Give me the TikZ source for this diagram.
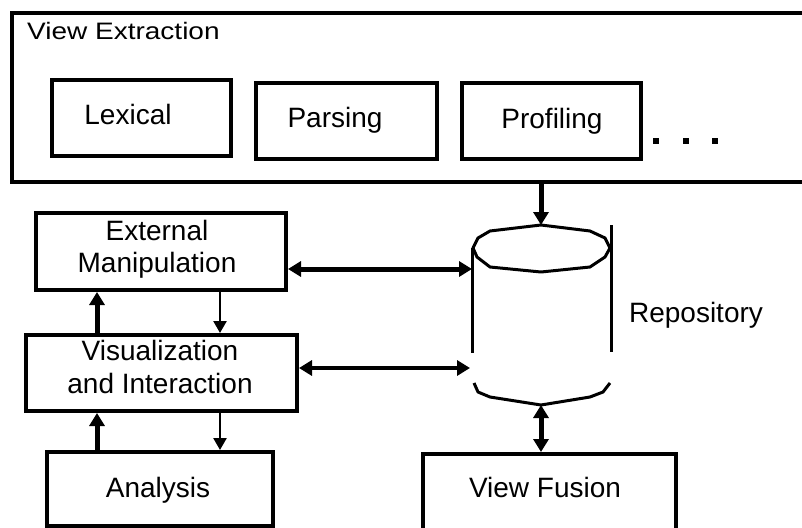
\documentclass[tikz,border=0pt]{standalone}
\usepackage{fontspec}
\setmainfont{Liberation Sans}
\usepackage{graphicx}
\usetikzlibrary{arrows.meta}
\begin{document}
\begin{tikzpicture}[x=1pt,y=-1pt,
  font={\fontsize{28pt}{29pt}\selectfont},
  boxst/.style={draw,line width=4pt,rectangle,inner sep=0pt},
  txt/.style={inner sep=0pt},
  thickarr/.style={line width=5pt,-{Triangle[length=13pt,width=15pt]}},
  thickdbl/.style={line width=5pt,{Triangle[length=13pt,width=15pt]}-{Triangle[length=13pt,width=15pt]}},
  meddbl/.style={line width=4pt,{Triangle[length=13pt,width=15pt]}-{Triangle[length=13pt,width=15pt]}},
  thinarr/.style={line width=2.5pt,-{Triangle[length=12pt,width=13pt]}},
  cyl/.style={line width=3pt,line join=round}]
\useasboundingbox (0,0) rectangle (802,527);
\clip (0,0) rectangle (802,527);

% View Extraction container
\node[boxst,minimum width=828pt,minimum height=169pt] (ve) at (426,97.5) {};
\node[txt,anchor=base west] (vetxt) at (27,40) {\scalebox{1}[0.85]{View Extraction}};

\node[boxst,minimum width=179pt,minimum height=76pt] (lex) at (141.5,118) {};
\node[txt,anchor=base] (lextxt) at (128,124) {Lexical};
\node[boxst,minimum width=181pt,minimum height=76pt] (par) at (346.5,121) {};
\node[txt,anchor=base] (partxt) at (335,127) {Parsing};
\node[boxst,minimum width=179pt,minimum height=76pt] (pro) at (551.5,121) {};
\node[txt,anchor=base] (protxt) at (552,128) {Profiling};
\fill (653,138) rectangle (659,144);
\fill (683,138) rectangle (689,144);
\fill (712,138) rectangle (718,144);

% Repository cylinder
\coordinate (repotop) at (541,225);
\coordinate (repoL1) at (472,269);
\coordinate (repoL2) at (470,368);
\coordinate (repobot) at (541,405);
\draw[cyl] (473,248) -- (478,238) -- (490,231) -- (repotop) -- (590,231) -- (605,238)
  -- (610,248) -- (605,257) -- (590,267) -- (541,272) -- (490,267) -- (477,257) -- cycle;
\draw[cyl] (472,248) -- (472,353);
\draw[cyl] (611,225) -- (611,352);
\draw[cyl] (474,383) -- (478,392) -- (490,397) -- (repobot) -- (590,397) -- (603,392) -- (610,383);
\node[txt,anchor=base] (repotxt) at (696,322) {Repository};

% Left column
\node[boxst,minimum width=250pt,minimum height=77pt] (em) at (161,251.5) {};
\node[txt,anchor=north,align=center,font={\fontsize{28pt}{32pt}\selectfont}] (emtxt) at (157,220) {External\\Manipulation};
\node[boxst,minimum width=271pt,minimum height=76pt] (vi) at (161.5,373) {};
\node[txt,anchor=north,align=center,font={\fontsize{28pt}{33pt}\selectfont}] (vitxt) at (160,340) {Visualization\\and Interaction};
\node[boxst,minimum width=226pt,minimum height=74pt] (an) at (160,489) {};
\node[txt,anchor=base] (antxt) at (158,497) {Analysis};

% View Fusion
\node[boxst,minimum width=253pt,minimum height=110pt] (vf) at (549.5,509) {};
\node[txt,anchor=base] (vftxt) at (545,497) {View Fusion};

\coordinate (upx) at (97,0);
\coordinate (downx) at (220,0);

% Connectors
\draw[thickarr] (ve.south -| repotop) -- (repotop);
\draw[thickdbl] (em.east |- repoL1) -- (repoL1);
\draw[meddbl] (vi.east |- repoL2) -- (repoL2);
\draw[thickarr] (vi.north -| upx) -- (em.south -| upx);
\draw[thinarr] (em.south -| downx) -- (vi.north -| downx);
\draw[thickarr] (an.north -| upx) -- (vi.south -| upx);
\draw[thinarr] (vi.south -| downx) -- (an.north -| downx);
\draw[thickdbl] (repobot) -- (vf.north -| repobot);
\end{tikzpicture}
\end{document}
